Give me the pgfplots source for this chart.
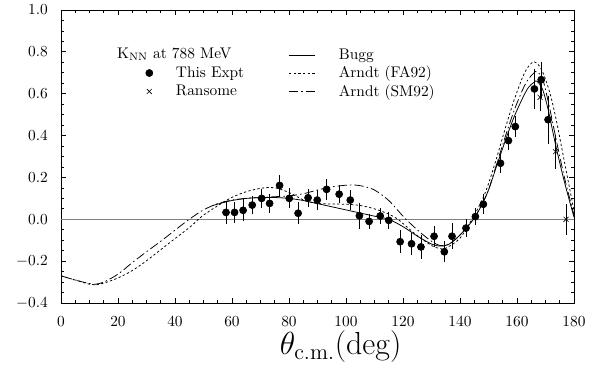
\documentclass[border=0pt]{standalone}
\usepackage{pgfplots}
\pgfplotsset{compat=1.18}
\begin{document}
\begin{tikzpicture}
\useasboundingbox (-39.65pt,-42.25pt) rectangle (351.7pt,197pt);
\begin{axis}[
 scale only axis, width=333.5pt, height=190.5pt,
 at={(0pt,0pt)}, anchor=south west,
 xmin=0, xmax=180, ymin=-0.4, ymax=1.0,
 xtick={0,20,...,180}, ytick={-0.4,-0.2,0,0.2,0.4,0.6,0.8,1.0},
 minor x tick num=3, minor y tick num=3,
 major tick length=3.5pt, minor tick length=2pt,
 tick style={black, line width=0.5pt},
 axis line style={line width=0.6pt},
 y tick label style={/pgf/number format/fixed, /pgf/number format/fixed zerofill, /pgf/number format/precision=1, xshift=-5pt},
 x tick label style={yshift=-5pt},
 xlabel={\huge$\theta_{\mathrm{c.m.}}$(deg)},
 xlabel style={yshift=4pt, xshift=15pt},
 legend columns=2,
 legend cell align=left,
 legend style={draw=none, fill=none, inner sep=0pt, at={(0.146,0.877)}, anchor=north west,
   nodes={inner ysep=1.5pt},
   /tikz/every odd column/.append style={column sep=13pt},
   /tikz/every even column/.append style={column sep=27pt}},
]
\addlegendimage{empty legend}\addlegendentry{}
\addlegendimage{black, line width=0.5pt}\addlegendentry{Bugg}
\addlegendimage{only marks, mark=*, mark size=2.3pt, black}\addlegendentry{This Expt}
\addlegendimage{black, line width=0.5pt, dash pattern=on 1.5pt off 1.5pt}\addlegendentry{Arndt (FA92)}
\addlegendimage{only marks, mark=x, mark size=2.3pt, black}\addlegendentry{Ransome}
\addlegendimage{black, line width=0.5pt, dash pattern=on 6pt off 2pt on 1pt off 2pt}\addlegendentry{Arndt (SM92)}

\addplot[forget plot, gray, line width=0.6pt] coordinates {(0,0) (180,0)};

% Arndt FA92
\addplot[forget plot, smooth, black, line width=0.5pt, dash pattern=on 1.5pt off 1.5pt] coordinates {
(0,-0.27) (5,-0.29) (10,-0.31) (12,-0.313) (15,-0.305) (20,-0.28) (25,-0.245) (30,-0.198) (35,-0.145) (40,-0.092) (45,-0.04) (48,-0.003) (50,0.02) (55,0.065) (60,0.105) (65,0.132) (70,0.148) (73,0.152) (76,0.148) (80,0.128) (83,0.107) (86,0.087) (90,0.076) (95,0.073) (100,0.072) (105,0.066) (110,0.05) (115,0.025) (118,0.002) (120,-0.02) (125,-0.078) (130,-0.125) (133,-0.14) (135,-0.138) (140,-0.09) (145,0.02) (148,0.1) (150,0.17) (153,0.3) (156,0.44) (159,0.57) (162,0.68) (164,0.73) (166,0.753) (168,0.73) (170,0.67) (172,0.58) (174,0.46) (176,0.32) (178,0.18) (180,0.04)};

% Arndt SM92
\addplot[forget plot, smooth, black, line width=0.5pt, dash pattern=on 6pt off 2pt on 1pt off 2pt] coordinates {
(0,-0.27) (5,-0.29) (10,-0.307) (12,-0.31) (15,-0.3) (20,-0.262) (25,-0.207) (30,-0.155) (35,-0.105) (40,-0.052) (45,0.0) (50,0.045) (55,0.075) (60,0.092) (65,0.1) (70,0.104) (75,0.108) (80,0.112) (85,0.122) (90,0.14) (95,0.155) (100,0.163) (103,0.164) (106,0.158) (110,0.14) (115,0.09) (120,0.015) (123,-0.025) (126,-0.062) (130,-0.105) (133,-0.125) (136,-0.12) (140,-0.075) (145,0.008) (148,0.08) (150,0.14) (153,0.27) (156,0.4) (159,0.52) (162,0.62) (164,0.67) (166,0.70) (167,0.706) (169,0.67) (171,0.56) (173,0.43) (175,0.3) (177,0.18) (180,0.02)};

% Bugg
\addplot[forget plot, smooth, black, line width=0.5pt] coordinates {
(53,0.065) (57,0.08) (60,0.09) (65,0.1) (70,0.104) (75,0.104) (80,0.1) (85,0.09) (90,0.075) (95,0.06) (100,0.045) (105,0.03) (110,0.015) (115,0.0) (120,-0.035) (125,-0.08) (130,-0.118) (133,-0.128) (136,-0.12) (140,-0.075) (145,0.005) (148,0.08) (150,0.14) (153,0.26) (156,0.38) (159,0.49) (162,0.58) (164,0.63) (166,0.655) (167,0.66) (169,0.62) (171,0.52) (173,0.39) (175,0.27) (177,0.16) (180,0.01)};

% This experiment
\addplot[forget plot, only marks, mark=*, mark size=2.3pt, black,
  error bars/.cd, y dir=both, y explicit,
  error bar style={line width=0.5pt, black},
  error mark options={black, mark size=2.3pt, line width=0.5pt}]
 table[x=x, y=y, y error=e] {
x y e
57.9 0.033 0.040
60.9 0.033 0.032
63.9 0.043 0.035
67.1 0.068 0.028
70.4 0.100 0.027
73.2 0.076 0.030
76.7 0.162 0.032
80.1 0.100 0.031
83.2 0.029 0.036
86.7 0.103 0.026
89.9 0.092 0.032
93.2 0.143 0.032
97.6 0.120 0.026
101.5 0.092 0.032
104.7 0.017 0.045
108.1 -0.010 0.020
112.0 0.016 0.020
115.0 -0.005 0.025
119.0 -0.107 0.037
123.0 -0.117 0.037
126.3 -0.132 0.040
130.9 -0.081 0.033
134.5 -0.155 0.033
137.2 -0.081 0.045
142.1 -0.042 0.025
145.4 0.013 0.025
148.2 0.072 0.030
154.2 0.268 0.030
157.0 0.376 0.030
159.4 0.443 0.033
166.1 0.623 0.080
168.5 0.667 0.070
170.9 0.476 0.097
};

% Ransome
\addplot[forget plot, only marks, mark=x, mark size=2.3pt, black,
  error bars/.cd, y dir=both, y explicit,
  error bar style={line width=0.5pt, black},
  error mark options={black, mark size=2.3pt, line width=0.5pt}]
 table[x=x, y=y, y error=e] {
x y e
168.1 0.583 0.050
173.5 0.323 0.065
177.2 0.000 0.058
};

\node[anchor=west, inner sep=0pt] at (axis cs:19.6,0.79) {K$_{\mathrm{NN}}$ at 788 MeV};
\end{axis}
\end{tikzpicture}
\end{document}
